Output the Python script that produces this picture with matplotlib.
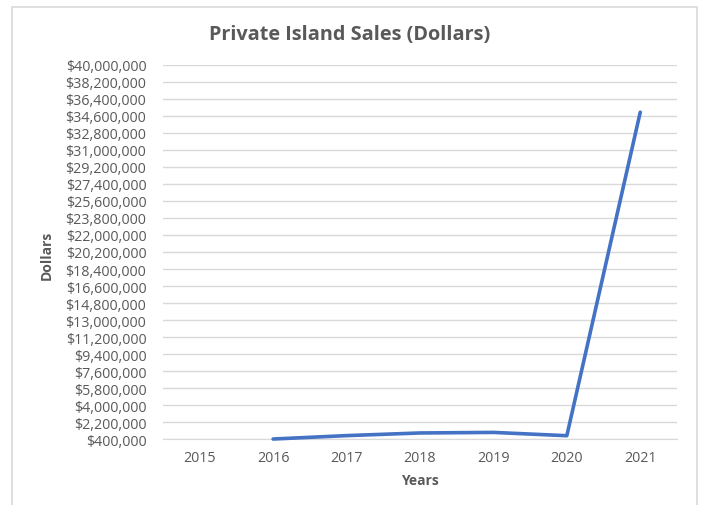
import numpy as np
import matplotlib.pyplot as plt
from matplotlib.patches import Rectangle
from matplotlib.ticker import FuncFormatter

years = ['2015', '2016', '2017', '2018', '2019', '2020', '2021']
sales = [np.nan, 400000, 760000, 1040000, 1100000, 750000, 35000000]
yticks = list(range(400000, 40000001, 1800000))

plt.rcParams['font.family'] = ['Open Sans', 'DejaVu Sans']
grey = '#595959'

fig = plt.figure(figsize=(7.04, 5.06), dpi=100)
ax = fig.add_axes([0.2315, 0.1304, 0.7301, 0.7392])

# chart border
fig.patches.append(Rectangle((12 / 704, -0.05), 685 / 704, 1.05 - 8 / 506,
                             transform=fig.transFigure, fill=False,
                             edgecolor='#d9d9d9', linewidth=1.2))

x = np.arange(len(years))
ax.plot(x, sales, color='#4472C4', linewidth=2.6, solid_capstyle='round',
        solid_joinstyle='round', clip_on=False, zorder=3)

ax.set_xlim(-0.5, len(years) - 0.5)
ax.set_ylim(yticks[0], yticks[-1])
ax.set_yticks(yticks)
ax.yaxis.set_major_formatter(FuncFormatter(lambda v, p: '${:,.0f}'.format(v)))
ax.set_xticks(x)
ax.set_xticklabels(years)

ax.grid(axis='y', color='#d9d9d9', linewidth=1)
ax.set_axisbelow(True)
for s in ax.spines.values():
    s.set_visible(False)
ax.spines['bottom'].set_visible(True)
ax.spines['bottom'].set_color('#d9d9d9')
ax.tick_params(axis='both', length=0, colors=grey, labelsize=10.3)
ax.tick_params(axis='y', pad=12)
ax.tick_params(axis='x', pad=8)

fig.text(350 / 704, 1 - 35 / 506, 'Private Island Sales (Dollars)', ha='center',
         va='center', fontsize=14.3, fontweight='bold', color=grey)
fig.text(420 / 704, 1 - 481 / 506, 'Years', ha='center', va='center',
         fontsize=10, fontweight='bold', color=grey)
fig.text(47 / 704, 1 - 255 / 506, 'Dollars', ha='center', va='center',
         rotation=90, fontsize=10, fontweight='bold', color=grey)

fig.savefig('out.png', dpi=100)
